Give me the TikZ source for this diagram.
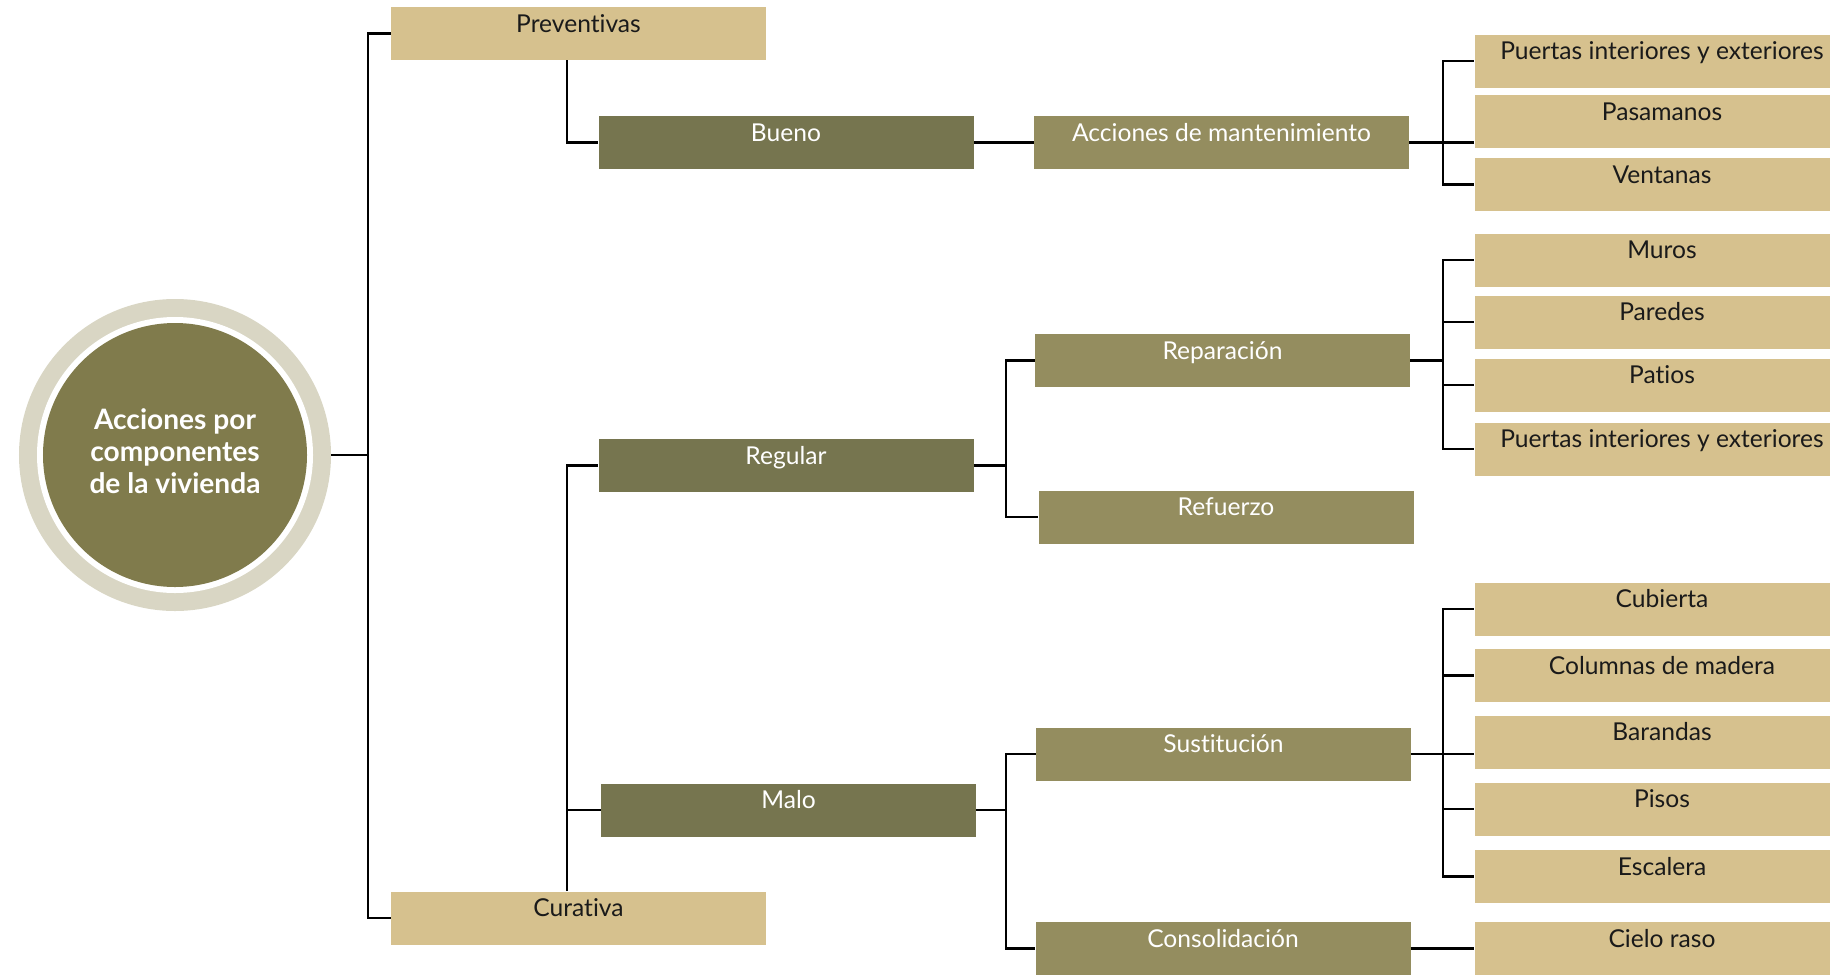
\documentclass[tikz,border=0pt]{standalone}
\usepackage{fontspec}
\setmainfont{Lato}[Ligatures=NoCommon]
\usepackage{tikz}

\definecolor{boxtan}{HTML}{D6C18E}
\definecolor{olivedark}{HTML}{76754F}
\definecolor{olivemid}{HTML}{948D5F}
\definecolor{hubfill}{HTML}{807B4C}
\definecolor{hubring}{HTML}{D9D6C4}
\definecolor{textdark}{HTML}{1A1A1A}

\begin{document}
\begin{tikzpicture}[x=0.2mm, y=-0.2mm,
  box/.style={rectangle, minimum width=75mm, inner xsep=0pt, inner ysep=0pt,
    text height=5mm, text depth=5.6mm, font=\fontsize{14}{16}\selectfont},
  leaf/.style={box, fill=boxtan, text=textdark},
  cond/.style={box, fill=olivedark, text=white},
  act/.style={box, fill=olivemid, text=white},
  link/.style={line width=0.55mm},
  hub/.style={circle, fill=hubring, minimum size=62.4mm, inner sep=0pt,
    align=center, text=white, text depth=1.6mm,
    font=\fontsize{16}{18}\selectfont\bfseries,
    path picture={
      \fill[white] (path picture bounding box.center) circle (27.6mm);
      \fill[hubfill] (path picture bounding box.center) circle (26.4mm);}}]
  \clip (0,0) rectangle (1830,974);

  \node[hub] (hub) at (175,455) {Acciones por\\componentes\\de la vivienda};

  % tipo de accion
  \node[leaf] (prev) at (578.5,33.5) {Preventivas};
  \node[leaf] (cur) at (578.5,918) {Curativa};

  % estado
  \node[cond] (bueno) at (786,142.5) {Bueno};
  \node[cond] (regular) at (786,465.5) {Regular};
  \node[cond] (malo) at (788.5,810) {Malo};

  % intervenciones
  \node[act] (acc) at (1221.5,142.5) {Acciones de mantenimiento};
  \node[act] (rep) at (1222.5,360.5) {Reparación};
  \node[act] (ref) at (1226,517) {Refuerzo};
  \node[act] (sus) at (1223.5,754) {Sustitución};
  \node[act] (con) at (1223,948.5) {Consolidación};

  % componentes
  \node[leaf] (puertasA) at (1662,61) {Puertas interiores y exteriores};
  \node[leaf] (pasamanos) at (1662,121.5) {Pasamanos};
  \node[leaf] (ventanas) at (1662,184.5) {Ventanas};
  \node[leaf] (muros) at (1662,260) {Muros};
  \node[leaf] (paredes) at (1662,322) {Paredes};
  \node[leaf] (patios) at (1662,385) {Patios};
  \node[leaf] (puertasB) at (1662,449) {Puertas interiores y exteriores};
  \node[leaf] (cubierta) at (1662,609) {Cubierta};
  \node[leaf] (columnas) at (1662,675.5) {Columnas de madera};
  \node[leaf] (barandas) at (1662,742) {Barandas};
  \node[leaf] (pisos) at (1662,809) {Pisos};
  \node[leaf] (escalera) at (1662,876.5) {Escalera};
  \node[leaf] (cielo) at (1662,948.5) {Cielo raso};

  % ejes de los corchetes
  \coordinate (trunk) at (368,0);
  \coordinate (spine) at (567,0);
  \coordinate (forkM) at (1006,0);
  \coordinate (forkR) at (1443,0);

  \draw[link] (hub.east) -- (hub.east -| trunk);
  \draw[link] (prev.west) -- (prev.west -| trunk) -- (cur.west -| trunk) -- (cur.west);
  \draw[link] (prev.south -| spine) |- (bueno.west);
  \draw[link] (cur.north -| spine) |- (regular.west);
  \draw[link] (malo.west -| spine) -- (malo.west);

  \draw[link] (bueno) -- (acc);
  \draw[link] (acc) -- (acc -| pasamanos.west);
  \foreach \n in {puertasA,ventanas}
    \draw[link] (acc.east -| forkR) |- (\n.west);

  \draw[link] (regular) -- (regular -| forkM);
  \foreach \n in {rep,ref}
    \draw[link] (regular.east -| forkM) |- (\n.west);
  \draw[link] (rep) -- (rep -| forkR);
  \foreach \n in {muros,paredes,patios,puertasB}
    \draw[link] (rep.east -| forkR) |- (\n.west);

  \draw[link] (malo) -- (malo -| forkM);
  \foreach \n in {sus,con}
    \draw[link] (malo.east -| forkM) |- (\n.west);
  \draw[link] (sus) -- (sus -| barandas.west);
  \foreach \n in {cubierta,columnas,pisos,escalera}
    \draw[link] (sus.east -| forkR) |- (\n.west);
  \draw[link] (con) -- (cielo);
\end{tikzpicture}
\end{document}
